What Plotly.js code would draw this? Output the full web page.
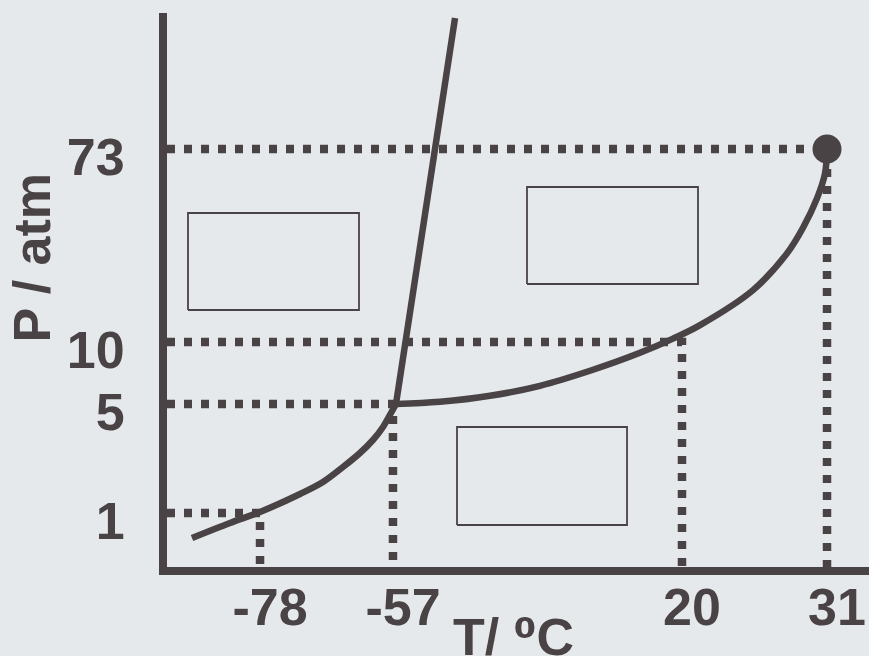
<!DOCTYPE html>
<html>
<head>
<meta charset="utf-8">
<script src="https://cdn.plot.ly/plotly-3.0.1.min.js"></script>
<style>html,body{margin:0;padding:0;background:#e5e9eb;}#chart{width:869px;height:656px;}</style>
</head>
<body>
<div id="chart"></div>
<script>
// Tick labels and their schematic positions on each axis
const tempLabels = ['-78', '-57', '20', '31'];
const tempPos = [13.25, 32.19, 73.36, 94.02];
const presLabels = ['1', '5', '10', '73'];
const presPos = [9.75, 29.42, 40.61, 75.45];

// Phase boundary curves (schematic units)
const sublimationT = [3.56, 8.97, 13.25, 18.95, 22.22, 25.07, 27.49, 29.34, 30.77, 31.91, 32.62];
const sublimationP = [5.23, 7.94, 9.93, 13.18, 15.34, 18.05, 20.58, 22.92, 25.27, 27.80, 29.42];
const meltingT = [32.62, 38.03, 41.03];
const meltingP = [29.42, 75.27, 99.10];
const vaporT = [32.62, 38.89, 46.01, 53.13, 60.26, 67.38, 72.08, 75.93, 83.48, 88.32, 90.60, 92.59, 93.73, 94.02];
const vaporP = [29.42, 29.82, 30.90, 32.71, 35.42, 38.66, 41.23, 43.66, 49.98, 56.61, 61.23, 66.53, 71.01, 75.45];

// Empty label boxes (schematic units)
const boxX0 = [2.99, 51.28, 41.31];
const boxX1 = [27.35, 75.64, 65.53];
const boxY0 = [46.39, 51.08, 7.58];
const boxY1 = [63.90, 68.59, 25.27];

const ink = '#4a4345';
const bg = '#e5e9eb';
const fontFam = '"Liberation Sans", Arial, "DejaVu Sans", sans-serif';

const traces = [];

// dotted guide lines: (0,P) -> (T,P) -> (T,0)
for (let i = 0; i < tempPos.length; i++) {
  traces.push({
    type: 'scatter', mode: 'lines',
    x: [0, tempPos[i], tempPos[i]],
    y: [presPos[i], presPos[i], 0],
    line: {color: ink, width: 8.5, dash: '8px,9px'},
    hoverinfo: 'skip', showlegend: false
  });
}

// boxes
for (let i = 0; i < boxX0.length; i++) {
  traces.push({
    type: 'scatter', mode: 'lines',
    x: [boxX0[i], boxX1[i], boxX1[i], boxX0[i], boxX0[i]],
    y: [boxY0[i], boxY0[i], boxY1[i], boxY1[i], boxY0[i]],
    line: {color: ink, width: 1.8},
    hoverinfo: 'skip', showlegend: false
  });
}

traces.push({
  type: 'scatter', mode: 'lines', x: sublimationT, y: sublimationP,
  line: {color: ink, width: 6.5, shape: 'spline', smoothing: 1},
  showlegend: false
});
traces.push({
  type: 'scatter', mode: 'lines', x: meltingT, y: meltingP,
  line: {color: ink, width: 6.5},
  showlegend: false
});
traces.push({
  type: 'scatter', mode: 'lines', x: vaporT, y: vaporP,
  line: {color: ink, width: 6.5, shape: 'spline', smoothing: 1},
  showlegend: false
});
// critical point
traces.push({
  type: 'scatter', mode: 'markers',
  x: [tempPos[3]], y: [presPos[3]],
  marker: {color: ink, size: 29},
  showlegend: false, cliponaxis: false
});

const tickFont = {family: fontFam, size: 52, color: ink, weight: 'bold'};

const layout = {
  width: 869, height: 656,
  paper_bgcolor: bg, plot_bgcolor: bg,
  margin: {l: 167, r: 0, t: 13, b: 89, autoexpand: false},
  showlegend: false,
  xaxis: {
    range: [0, 100], showgrid: false, zeroline: false,
    showline: true, linewidth: 8, linecolor: ink,
    tickmode: 'array', tickvals: tempPos, ticktext: tempLabels,
    ticks: '', ticklen: 0, tickfont: tickFont,
    ticklabelshift: 10, ticklabelstandoff: -12, fixedrange: true
  },
  yaxis: {
    range: [0, 100], showgrid: false, zeroline: false,
    showline: true, linewidth: 8, linecolor: ink,
    tickmode: 'array', tickvals: presPos, ticktext: presLabels,
    ticks: '', ticklen: 0, tickfont: tickFont,
    ticklabelshift: 8, ticklabelstandoff: 24, fixedrange: true
  },
  annotations: [
    {
      text: 'P / atm', textangle: -90, showarrow: false,
      xref: 'paper', yref: 'paper', x: -0.1923, y: 0.5587,
      xanchor: 'center', yanchor: 'middle',
      font: {family: fontFam, size: 52, color: ink, weight: 'bold'}
    },
    {
      text: 'T/ \u2070C', showarrow: false,
      xref: 'paper', yref: 'paper', x: 0.4929, y: -0.0704,
      xanchor: 'center', yanchor: 'top',
      font: {family: fontFam, size: 52, color: ink, weight: 'bold'}
    }
  ]
};

Plotly.newPlot('chart', traces, layout, {displayModeBar: false, staticPlot: true});
</script>
</body>
</html>
